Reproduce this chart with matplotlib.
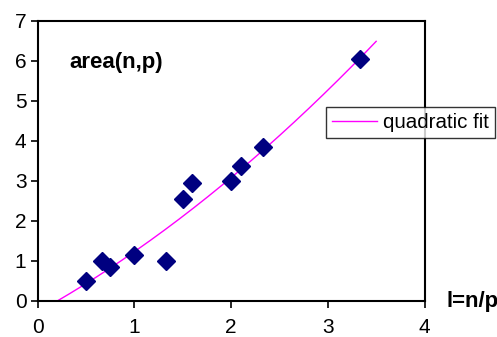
import numpy as np
import matplotlib.pyplot as plt

# Datos
ratio_l = [0.5, 0.667, 0.75, 1.0, 1.333, 1.5, 1.6, 2.0, 2.1, 2.333, 3.333]
area_np = [0.5, 1.0, 0.86, 1.15, 1.0, 2.56, 2.96, 3.0, 3.37, 3.85, 6.05]

# Coeficientes del ajuste cuadrático (a, b, c) y su rango
fit_coef = [0.169, 1.343, -0.282]
fit_range = [0.205, 3.5]

plt.rcParams["font.family"] = ["Liberation Sans", "DejaVu Sans"]

fig = plt.figure(figsize=(4.97, 3.37), dpi=100)
ax = fig.add_axes([0.0755, 0.107, 0.7787, 0.831])

xf = np.linspace(fit_range[0], fit_range[1], 200)
ax.plot(xf, np.polyval(fit_coef, xf), color="#FF00FF", linewidth=1, label="quadratic fit")
ax.plot(ratio_l, area_np, linestyle="none", marker="D", markersize=9,
        color="#000080", label="_nolegend_")

ax.set_xlim(0, 4)
ax.set_ylim(0, 7)
ax.set_xticks(range(0, 5))
ax.set_yticks(range(0, 8))
ax.tick_params(direction="out", length=5, width=1.2, labelsize=15)
ax.tick_params(axis="x", pad=7)
ax.tick_params(axis="y", pad=3)
for s in ax.spines.values():
    s.set_linewidth(1.5)

ax.text(0.325, 5.97, "area(n,p)", fontsize=16, fontweight="bold", va="center", ha="left")
fig.text(446 / 497, 36 / 337, "l=n/p", fontsize=16, fontweight="bold", va="center", ha="left")

leg = fig.legend(loc="upper left", bbox_to_anchor=(326 / 497, (337 - 107) / 337),
                 frameon=True, fancybox=False, shadow=False, fontsize=14.8,
                 handlelength=2.2, borderpad=0.3, handletextpad=0.25, borderaxespad=0)
leg.get_frame().set_edgecolor("black")
leg.get_frame().set_linewidth(1)

fig.savefig("out.png", dpi=100)
